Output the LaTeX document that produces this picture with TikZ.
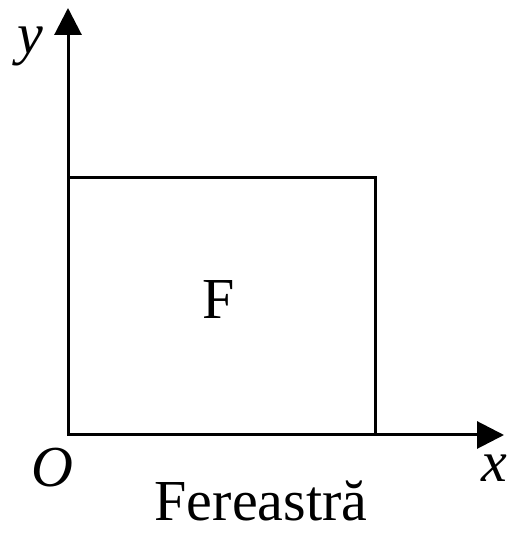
\documentclass[tikz,border=0pt]{standalone}
\usepackage{fontspec}
\setmainfont{Liberation Serif}
\usetikzlibrary{arrows.meta}
\begin{document}
\begin{tikzpicture}[x=1pt,y=1pt,
  axis/.style={line width=3pt,-{Triangle[width=27pt,length=27pt]}},
  box/.style={line width=3pt},
  lbl/.style={font=\fontsize{58}{60}\selectfont,inner sep=0pt}]
\useasboundingbox (0,0) rectangle (510,534);
\coordinate (o) at (68,99);
\coordinate (ytip) at (68,526);
\coordinate (xtip) at (504,99);
\coordinate (tr) at (375,356);
\draw[box] (o) rectangle (tr);
\draw[axis] (o) -- (ytip);
\draw[axis] (o) -- (xtip);
\node[lbl] (F) at (219,234) {F};
\node[lbl] (ylab) at (30,488) {\itshape y};
\node[lbl] (xlab) at (494,66) {\itshape x};
\node[lbl] (olab) at (52,66) {\itshape O};
\node[lbl,anchor=base] (cap) at (261,13) {Fereastră};
\end{tikzpicture}
\end{document}
